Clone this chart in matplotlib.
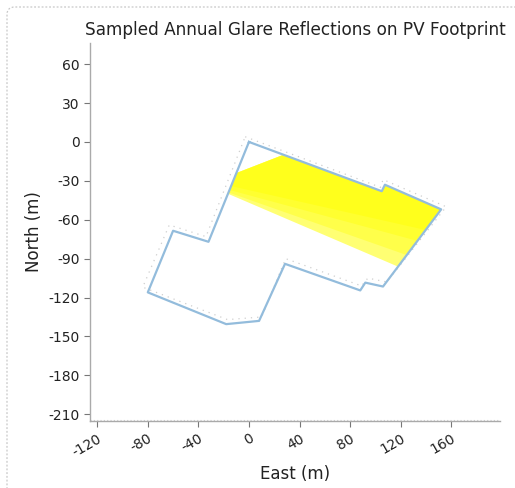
import matplotlib
matplotlib.use("Agg")
import matplotlib.pyplot as plt
from matplotlib.patches import FancyBboxPatch, Polygon

plt.rcParams['font.family'] = ['DejaVu Sans']
plt.rcParams['axes.unicode_minus'] = False

# Data (metres, east / north)
footprint_east = [0, 105, 107.5, 152, 106, 92, 88, 28.5, 8, -18, -80, -60, -32, 0]
footprint_north = [0, -38, -33, -52, -111.5, -108.5, -114.5, -94, -138, -140.5, -116, -68.5, -77, 0]

outline_east = [-3, 104, 106, 156, 109, 94, 89, 29, 10, -17, -84, -63, -34, -3]
outline_north = [4, -35, -29, -50, -108, -105, -111, -90, -135, -137, -112, -64, -73, 4]

# glare region layers (denser toward the upper edge)
glare_layers_east = [
    [-10, 27, 105, 107.5, 152, 117.5, -16.5],
    [-10, 27, 105, 107.5, 152, 124, -16],
    [-10, 27, 105, 107.5, 152, 132, -15.5],
    [-10, 27, 105, 107.5, 152, 140, -14.5],
]
glare_layers_north = [
    [-24, -10, -38, -33, -52, -96, -40],
    [-24, -10, -38, -33, -52, -87, -39],
    [-24, -10, -38, -33, -52, -76, -37],
    [-24, -10, -38, -33, -52, -68, -34],
]

xticks = [-120, -80, -40, 0, 40, 80, 120, 160]
yticks = [60, 30, 0, -30, -60, -90, -120, -150, -180, -210]

fig = plt.figure(figsize=(5.15, 4.88), dpi=100)

border = FancyBboxPatch((7 / 515, -0.2), 1.2, 1.2 - 7 / 488,
                        boxstyle="round,pad=0,rounding_size=0.015",
                        transform=fig.transFigure, fill=False,
                        edgecolor='#c8c8c8', lw=0.9, ls=(0, (1.5, 1.5)))
fig.patches.append(border)

ax = fig.add_axes([90 / 515, (488 - 421) / 488, 410 / 515, (421 - 43) / 488])

for ge, gn, a in zip(glare_layers_east, glare_layers_north, [0.55, 0.35, 0.35, 0.4]):
    ax.add_patch(Polygon(list(zip(ge, gn)), closed=True,
                         facecolor='#ffff00', edgecolor='none', alpha=a))

ax.plot(outline_east, outline_north, color='#cfcfcf', lw=0.9, ls=(0, (1, 4)))
ax.plot(footprint_east, footprint_north, color='#93bcdc', lw=1.6)

ax.set_xlim(-125.7, 198.5)
ax.set_ylim(-215.2, 76.3)
ax.set_xticks(xticks)
ax.set_yticks(yticks)
ax.set_xticklabels([str(v) for v in xticks], rotation=30, ha='right',
                   rotation_mode='anchor')
ax.tick_params(colors='#222222', labelsize=10, length=4, color='#777777')

for s in ['top', 'right']:
    ax.spines[s].set_visible(False)
for s in ['left', 'bottom']:
    ax.spines[s].set_color('#aaaaaa')
    ax.spines[s].set_linewidth(1.0)
ax.axhline(-214.2, color='#d0d0d0', lw=0.8, ls=(0, (1, 2)))

ax.set_xlabel('East (m)', fontsize=12, color='#222222')
ax.set_ylabel('North (m)', fontsize=12, color='#222222')
ax.set_title('Sampled Annual Glare Reflections on PV Footprint', fontsize=12.2,
             color='#222222')

fig.savefig('out.png', dpi=100)
